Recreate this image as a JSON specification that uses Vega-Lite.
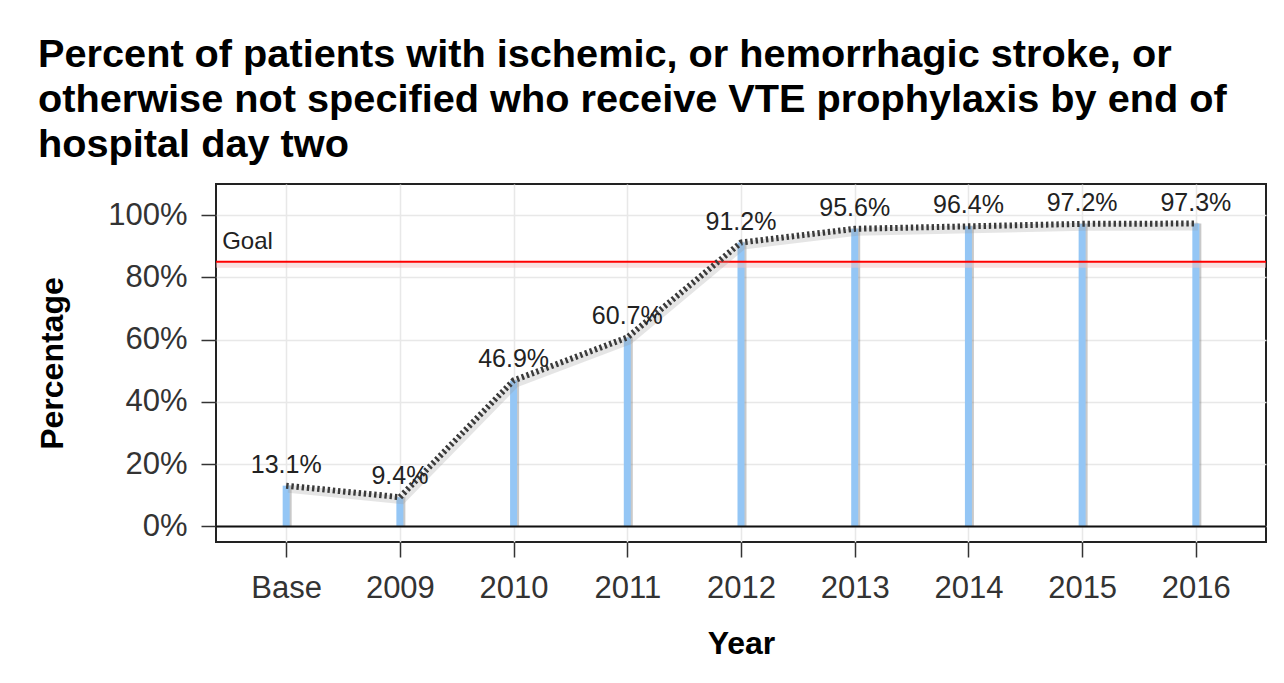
{
  "$schema": "https://vega.github.io/schema/vega-lite/v6.json",
  "autosize": {"type": "none"},
  "width": 1050,
  "height": 358,
  "padding": {"left": 216, "top": 184, "right": 18, "bottom": 141},
  "background": "white",
  "config": {
    "font": "Liberation Sans",
    "view": {"stroke": "#222", "strokeWidth": 2}
  },
  "title": {
    "text": ["Percent of patients with ischemic, or hemorrhagic stroke, or", "otherwise not specified who receive VTE prophylaxis by end of", "hospital day two"],
    "anchor": "start",
    "frame": "group",
    "dx": -178,
    "dy": 42,
    "fontSize": 39.7,
    "fontWeight": "bold",
    "color": "#000",
    "lineHeight": 45,
    "baseline": "bottom",
    "offset": 21
  },
  "datasets": {
    "vals": [
      {"year": "Base", "pct": 13.1, "label": "13.1%"},
      {"year": "2009", "pct": 9.4, "label": "9.4%"},
      {"year": "2010", "pct": 46.9, "label": "46.9%"},
      {"year": "2011", "pct": 60.7, "label": "60.7%"},
      {"year": "2012", "pct": 91.2, "label": "91.2%"},
      {"year": "2013", "pct": 95.6, "label": "95.6%"},
      {"year": "2014", "pct": 96.4, "label": "96.4%"},
      {"year": "2015", "pct": 97.2, "label": "97.2%"},
      {"year": "2016", "pct": 97.3, "label": "97.3%"}
    ],
    "goal": [{"year": "Base", "goal": 85, "zero": 0, "label": "Goal"}]
  },
  "layer": [
    {
      "data": {"name": "vals"},
      "mark": {"type": "rule", "color": "#777", "opacity": 0.4, "strokeWidth": 5, "xOffset": 3},
      "encoding": {
        "x": {
          "field": "year",
          "type": "ordinal",
          "sort": null,
          "scale": {"type": "point", "padding": 0.617, "domain": ["Base", "2009", "2010", "2011", "2012", "2013", "2014", "2015", "2016"]},
          "axis": {
            "title": "Year",
            "labelAngle": 0,
            "domain": false,
            "grid": true,
            "gridColor": "#e8e8e8",
            "gridWidth": 1.5,
            "tickSize": 15,
            "tickColor": "#333",
            "tickWidth": 1.5,
            "labelFontSize": 31,
            "labelColor": "#333",
            "labelBaseline": "alphabetic",
            "labelPadding": 40,
            "titleFontSize": 32,
            "titleFontWeight": "bold",
            "titleColor": "#000",
            "titleBaseline": "alphabetic",
            "titleY": 111
          }
        },
        "y": {"field": "pct", "type": "quantitative", "scale": {"domain": [-5, 110], "nice": false, "zero": false},
          "axis": {
            "title": "Percentage",
            "values": [0, 20, 40, 60, 80, 100],
            "labelExpr": "datum.value + '%'",
            "domain": false,
            "grid": true,
            "gridColor": "#e8e8e8",
            "gridWidth": 1.5,
            "tickSize": 15,
            "tickColor": "#333",
            "tickWidth": 1.5,
            "labelFontSize": 31,
            "labelColor": "#333",
            "labelPadding": 14,
            "titleFontSize": 32,
            "titleFontWeight": "bold",
            "titleColor": "#000",
            "titleAngle": 270,
            "titleAlign": "center",
            "titleBaseline": "alphabetic",
            "titleX": -154,
            "titleY": 179
          }
        },
        "y2": {"datum": 0}
      }
    },
    {
      "data": {"name": "vals"},
      "mark": {"type": "rule", "color": "#94c6f5", "strokeWidth": 7},
      "encoding": {
        "x": {"field": "year", "type": "ordinal", "sort": null},
        "y": {"field": "pct", "type": "quantitative"},
        "y2": {"datum": 0}
      }
    },
    {
      "data": {"name": "goal"},
      "mark": {"type": "rule", "color": "#f2c4c4", "strokeWidth": 6, "opacity": 0.5, "yOffset": 3},
      "encoding": {
        "y": {"field": "goal", "type": "quantitative"}
      }
    },
    {
      "data": {"name": "goal"},
      "mark": {"type": "rule", "color": "#ff0000", "strokeWidth": 2},
      "encoding": {
        "y": {"field": "goal", "type": "quantitative"}
      }
    },
    {
      "data": {"name": "goal"},
      "mark": {"type": "rule", "color": "#111", "strokeWidth": 2},
      "encoding": {
        "y": {"field": "zero", "type": "quantitative"}
      }
    },
    {
      "data": {"name": "vals"},
      "mark": {"type": "line", "color": "#999", "opacity": 0.25, "strokeWidth": 8, "xOffset": 2, "yOffset": 3},
      "encoding": {
        "x": {"field": "year", "type": "ordinal", "sort": null},
        "y": {"field": "pct", "type": "quantitative"}
      }
    },
    {
      "data": {"name": "vals"},
      "mark": {"type": "line", "color": "#3a3a3a", "strokeWidth": 6, "strokeDash": [2.4, 2.8], "strokeCap": "butt"},
      "encoding": {
        "x": {"field": "year", "type": "ordinal", "sort": null},
        "y": {"field": "pct", "type": "quantitative"}
      }
    },
    {
      "data": {"name": "vals"},
      "mark": {"type": "text", "fontSize": 25, "color": "#222", "baseline": "alphabetic", "align": "center", "dy": -13},
      "encoding": {
        "x": {"field": "year", "type": "ordinal", "sort": null},
        "y": {"field": "pct", "type": "quantitative"},
        "text": {"field": "label"}
      }
    },
    {
      "data": {"name": "goal"},
      "mark": {"type": "text", "fontSize": 24, "color": "#222", "baseline": "alphabetic", "align": "left", "dx": -64, "dy": -13},
      "encoding": {
        "x": {"field": "year", "type": "ordinal", "sort": null},
        "y": {"field": "goal", "type": "quantitative"},
        "text": {"field": "label"}
      }
    }
  ]
}
